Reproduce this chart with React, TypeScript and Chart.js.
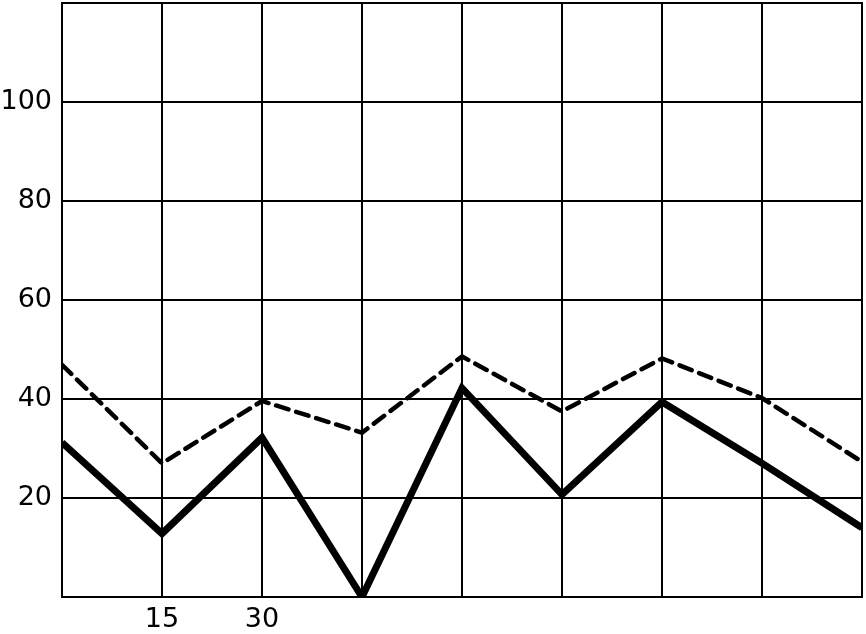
import React, { useEffect, useRef } from "react";
import { Chart, registerables } from "chart.js";

Chart.register(...registerables);

const xValues = [0, 15, 30, 45, 60, 75, 90, 105, 120];
const solidSeries = [31.2, 12.8, 32.2, 0, 42.2, 20.7, 39.4, 27, 14];
const dashedSeries = [46.9, 27, 39.6, 33.2, 48.6, 37.5, 48.2, 40.2, 27.3];
const yTickLabels = [20, 40, 60, 80, 100];
const xTickLabels = [15, 30];

export default function App() {
  const ref = useRef<HTMLCanvasElement | null>(null);

  useEffect(() => {
    document.body.style.margin = "0";
    if (!ref.current) return;
    const font = { family: "'DejaVu Sans', 'Liberation Sans', Arial, sans-serif", size: 27 };
    const chart = new Chart(ref.current, {
      type: "line",
      data: {
        datasets: [
          {
            label: "solid",
            data: xValues.map((x, i) => ({ x, y: solidSeries[i] })),
            borderColor: "#000",
            borderWidth: 7,
            pointRadius: 0,
            tension: 0,
            borderJoinStyle: "miter",
          },
          {
            label: "dashed",
            data: xValues.map((x, i) => ({ x, y: dashedSeries[i] })),
            borderColor: "#000",
            borderWidth: 4.5,
            borderDash: [13, 8],
            borderCapStyle: "round",
            pointRadius: 0,
            tension: 0,
          },
        ],
      },
      options: {
        responsive: false,
        animation: false,
        layout: { padding: { top: 3, right: 4, left: 0, bottom: 0 } },
        plugins: { legend: { display: false }, tooltip: { enabled: false } },
        scales: {
          x: {
            type: "linear",
            min: 0,
            max: 120,
            ticks: {
              stepSize: 15,
              color: "#000",
              font,
              padding: 7,
              maxRotation: 0,
              autoSkip: false,
              callback: (v: any) => (xTickLabels.includes(Number(v)) ? String(v) : ""),
            },
            grid: { color: "#000", lineWidth: 2, drawTicks: false },
            border: { color: "#000", width: 2 },
            afterFit: (s: any) => {
              s.height = 37;
              s.paddingLeft = 0;
              s.paddingRight = 0;
            },
          },
          y: {
            min: 0,
            max: 120,
            ticks: {
              stepSize: 20,
              color: "#000",
              font,
              padding: 10,
              callback: (v: any) => (yTickLabels.includes(Number(v)) ? String(v) : ""),
            },
            grid: { color: "#000", lineWidth: 2, drawTicks: false },
            border: { color: "#000", width: 2 },
            afterFit: (s: any) => {
              s.width = 62;
              s.paddingTop = 0;
              s.paddingBottom = 0;
            },
          },
        },
      },
      plugins: [
        {
          id: "frame",
          afterDraw: (c: any) => {
            const { left, right, top, bottom } = c.chartArea;
            const ctx = c.ctx;
            ctx.save();
            ctx.strokeStyle = "#000";
            ctx.lineWidth = 2;
            ctx.strokeRect(left, top, right - left, bottom - top);
            ctx.restore();
          },
        },
      ],
    });
    return () => chart.destroy();
  }, []);

  return (
    <div style={{ position: "absolute", left: 0, top: 0, width: 866, height: 634, background: "#fff" }}>
      <canvas ref={ref} width={866} height={634} style={{ width: 866, height: 634 }} />
    </div>
  );
}
